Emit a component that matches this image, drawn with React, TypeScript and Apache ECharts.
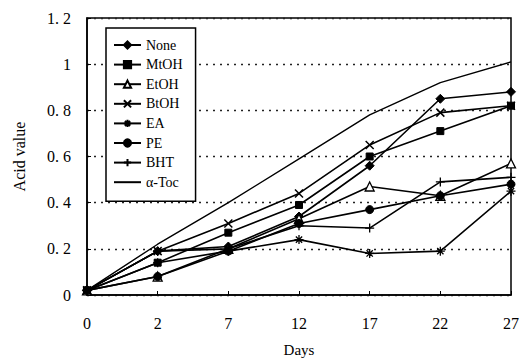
import React, { useEffect, useRef } from "react";
import * as echarts from "echarts";

const DAYS = ["0", "2", "7", "12", "17", "22", "27"];
const NONE = [0.02, 0.19, 0.21, 0.34, 0.56, 0.85, 0.88];
const MTOH = [0.02, 0.14, 0.27, 0.39, 0.6, 0.71, 0.82];
const ETOH = [0.02, 0.08, 0.2, 0.33, 0.47, 0.43, 0.57];
const BTOH = [0.02, 0.19, 0.31, 0.44, 0.65, 0.79, 0.82];
const EA = [0.02, 0.14, 0.19, 0.24, 0.18, 0.19, 0.45];
const PE = [0.02, 0.08, 0.19, 0.31, 0.37, 0.43, 0.48];
const BHT = [0.02, 0.19, 0.2, 0.3, 0.29, 0.49, 0.51];
const ATOC = [0.02, 0.22, 0.4, 0.59, 0.78, 0.92, 1.01];

const CROSS = "path://M0,0L10,10M10,0L0,10";
const PLUS = "path://M5,0L5,10M0,5L10,5";
const STAR = "path://M5,0L5,10M0,5L10,5M1.5,1.5L8.5,8.5M8.5,1.5L1.5,8.5";

const SERIF = "'Liberation Serif', 'DejaVu Serif', serif";

export default function App() {
  const ref = useRef<HTMLDivElement>(null);
  useEffect(() => {
    if (!ref.current) return;
    const chart = echarts.init(ref.current, undefined, { renderer: "svg" });
    const base = (name: string, data: number[], symbol: string, size: number, extra: any = {}) => ({
      name,
      type: "line",
      data,
      symbol,
      symbolSize: size,
      lineStyle: { color: "#000", width: 1.6 },
      itemStyle: { color: "#000", borderColor: "#000", borderWidth: 1 },
      z: 3,
      ...extra,
    });
    chart.setOption({
      animation: false,
      backgroundColor: "#fff",
      grid: {
        left: 87,
        right: 8,
        top: 18,
        bottom: 62,
        show: true,
        borderColor: "#000",
        borderWidth: 1.5,
      },
      legend: {
        orient: "vertical",
        left: 106,
        top: 28,
        padding: [10, 13, 12, 7],
        itemWidth: 27,
        itemHeight: 9,
        itemGap: 5.6,
        borderColor: "#000",
        borderWidth: 1.5,
        backgroundColor: "#fff",
        textStyle: { fontFamily: SERIF, fontSize: 14, color: "#000", lineHeight: 14 },
        data: ["None", "MtOH", "EtOH", "BtOH", "EA", "PE", "BHT", "α-Toc"],
      },
      xAxis: {
        type: "category",
        data: DAYS,
        boundaryGap: false,
        name: "Days",
        nameLocation: "middle",
        nameGap: 47,
        nameTextStyle: { fontFamily: SERIF, fontSize: 15, color: "#000" },
        axisLine: { lineStyle: { color: "#000", width: 1.5 } },
        axisTick: { inside: true, length: 4, lineStyle: { color: "#000" } },
        axisLabel: { fontFamily: SERIF, fontSize: 16, color: "#000", margin: 20 },
        splitLine: { show: false },
      },
      yAxis: {
        type: "value",
        min: 0,
        max: 1.2,
        interval: 0.2,
        name: "Acid value",
        nameLocation: "middle",
        nameGap: 60,
        nameTextStyle: { fontFamily: SERIF, fontSize: 16, color: "#000" },
        axisLine: { show: true, lineStyle: { color: "#000", width: 1.5 } },
        axisTick: { show: true, inside: true, length: 4, lineStyle: { color: "#000" } },
        axisLabel: {
          fontFamily: SERIF,
          fontSize: 16,
          color: "#000",
          margin: 16,
          formatter: (v: number) => {
            if (Math.abs(v) < 1e-9) return "0";
            if (Math.abs(v - 1) < 1e-9) return "1";
            return v.toFixed(1).replace(".", ". ");
          },
        },
        splitLine: { show: true, lineStyle: { color: "#222", width: 1.3, type: [2, 5] } },
      },
      series: [
        base("None", NONE, "diamond", 9),
        base("MtOH", MTOH, "rect", 7),
        base("EtOH", ETOH, "triangle", 9, {
          itemStyle: { color: "#fff", borderColor: "#000", borderWidth: 1.3 },
        }),
        base("BtOH", BTOH, CROSS, 8, {
          itemStyle: { color: "#000", borderColor: "#000", borderWidth: 1.5 },
        }),
        base("EA", EA, STAR, 9, {
          itemStyle: { color: "#000", borderColor: "#000", borderWidth: 1.3 },
        }),
        base("PE", PE, "circle", 8),
        base("BHT", BHT, PLUS, 9, {
          itemStyle: { color: "#000", borderColor: "#000", borderWidth: 1.3 },
        }),
        base("α-Toc", ATOC, "circle", 1, {
          showSymbol: false,
          lineStyle: { color: "#000", width: 1.4 },
          itemStyle: { color: "rgba(0,0,0,0)", borderColor: "rgba(0,0,0,0)", borderWidth: 0 },
        }),
      ],
    });
    return () => chart.dispose();
  }, []);
  return <div ref={ref} style={{ width: 522, height: 362, position: "absolute", left: 0, top: 0 }} />;
}
